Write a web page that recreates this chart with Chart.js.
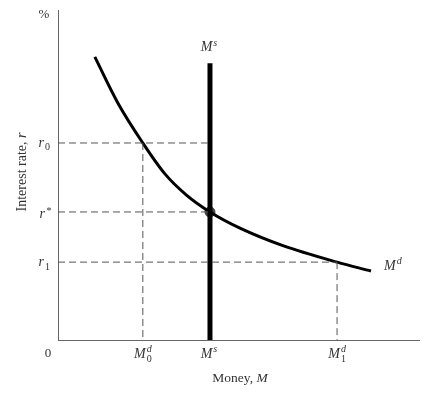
<!DOCTYPE html>
<html>
<head>
<meta charset="utf-8">
<script src="https://cdn.jsdelivr.net/npm/chart.js@4"></script>
<style>
  body { margin: 0; background: #fff; }
  #wrap { width: 427px; height: 398px; }
</style>
</head>
<body>
<div id="wrap"><canvas id="moneyChart" width="427" height="398"></canvas></div>
<script>
// money demand curve
var demandX = [10.2, 16.5, 23.5, 29.5, 35.5, 42.1, 50.4, 62.3, 77.3, 86.7];
var demandY = [85.8, 72.0, 59.7, 50.5, 44.0, 38.8, 33.9, 28.6, 23.6, 20.9];

// money supply (vertical)
var supplyX = 42.1;
var supplyTop = 83.9;

// interest rates and matching money amounts
var rateNames = ['r0', 'r*', 'r1'];
var rateValues = [59.7, 38.8, 23.6];
var moneyNames = ['M0d', 'Ms', 'M1d'];
var moneyValues = [23.5, 42.1, 77.3];

var txt = '#333';
var serif = '"Liberation Serif", "DejaVu Serif", serif';

function pts(xs, ys) {
    return xs.map(function (x, i) { return { x: x, y: ys[i] }; });
}

var dash = {
    borderColor: '#555',
    borderWidth: 1,
    borderDash: [7, 4],
    pointRadius: 0,
    fill: false
};

// label with italic base and small sub/superscript
function drawSym(ctx, base, sup, sub, x, y, align, size, supUp) {
    var small = Math.round(size * 0.72);
    ctx.font = 'italic ' + size + 'px ' + serif;
    var wb = ctx.measureText(base).width;
    ctx.font = 'italic ' + small + 'px ' + serif;
    var ws = Math.max(sup ? ctx.measureText(sup).width : 0, sub ? ctx.measureText(sub).width : 0);
    var total = wb + ws + 1;
    var left = align === 'right' ? x - total : align === 'center' ? x - total / 2 : x;
    ctx.textAlign = 'left';
    ctx.textBaseline = 'alphabetic';
    ctx.font = 'italic ' + size + 'px ' + serif;
    ctx.fillText(base, left, y);
    if (sup) {
        ctx.font = 'italic ' + small + 'px ' + serif;
        ctx.fillText(sup, left + wb + 1, y - size * (supUp || 0.4));
    }
    if (sub) {
        ctx.font = small + 'px ' + serif;
        ctx.fillText(sub, left + wb + 1, y + size * 0.25);
    }
}

var labelPlugin = {
    id: 'labels',
    afterDraw: function (chart) {
        var ctx = chart.ctx;
        var xs = chart.scales.x, ys = chart.scales.y;
        var x0 = xs.getPixelForValue(0), y0 = ys.getPixelForValue(0);
        ctx.save();
        ctx.fillStyle = txt;

        ctx.font = '13px ' + serif;
        ctx.textAlign = 'center';
        ctx.textBaseline = 'middle';
        ctx.fillText('%', x0 - 14, ys.getPixelForValue(98.5));
        ctx.fillText('0', x0 - 10, y0 + 14);

        // rate labels on the y axis
        rateNames.forEach(function (n, i) {
            var py = ys.getPixelForValue(rateValues[i]) + 4;
            if (n === 'r*') {
                drawSym(ctx, 'r', '*', null, x0 - 7, py + 2, 'right', 14, 0.25);
            } else {
                drawSym(ctx, 'r', null, n.slice(1), x0 - 8, py, 'right', 14);
            }
        });

        // money labels under the x axis
        moneyNames.forEach(function (n, i) {
            var px = xs.getPixelForValue(moneyValues[i]);
            var py = y0 + 18;
            if (n === 'Ms') {
                drawSym(ctx, 'M', 's', null, px - 1, py, 'center', 14);
            } else {
                drawSym(ctx, 'M', 'd', n.charAt(1), px, py, 'center', 14);
            }
        });

        // curve names
        drawSym(ctx, 'M', 's', null, xs.getPixelForValue(supplyX) - 1, ys.getPixelForValue(supplyTop) - 12, 'center', 14);
        var lx = xs.getPixelForValue(demandX[demandX.length - 1]) + 13;
        drawSym(ctx, 'M', 'd', null, lx, ys.getPixelForValue(demandY[demandY.length - 1]) - 1, 'left', 14);

        // axis titles
        ctx.textAlign = 'left';
        ctx.textBaseline = 'middle';
        var t1 = 'Money, ';
        ctx.font = '13.5px ' + serif;
        var w1 = ctx.measureText(t1).width;
        ctx.font = 'italic 13.5px ' + serif;
        var w2 = ctx.measureText('M').width;
        var cx = 240 - (w1 + w2) / 2;
        ctx.font = '13.5px ' + serif;
        ctx.fillText(t1, cx, 378);
        ctx.font = 'italic 13.5px ' + serif;
        ctx.fillText('M', cx + w1, 378);

        ctx.translate(22, 172);
        ctx.rotate(-Math.PI / 2);
        var s1 = 'Interest rate, ';
        ctx.font = '14px ' + serif;
        var v1 = ctx.measureText(s1).width;
        ctx.font = 'italic 14px ' + serif;
        var v2 = ctx.measureText('r').width;
        ctx.font = '14px ' + serif;
        ctx.fillText(s1, -(v1 + v2) / 2, 0);
        ctx.font = 'italic 14px ' + serif;
        ctx.fillText('r', -(v1 + v2) / 2 + v1, 0);
        ctx.restore();
    }
};

var ctxMoney = document.getElementById('moneyChart').getContext('2d');
var moneyChart = new Chart(ctxMoney, {
    type: 'line',
    data: {
        datasets: [
            Object.assign({ data: [{ x: 0, y: rateValues[0] }, { x: supplyX, y: rateValues[0] }] }, dash),
            Object.assign({ data: [{ x: moneyValues[0], y: rateValues[0] }, { x: moneyValues[0], y: 0 }] }, dash),
            Object.assign({ data: [{ x: 0, y: rateValues[1] }, { x: supplyX, y: rateValues[1] }] }, dash),
            Object.assign({ data: [{ x: 0, y: rateValues[2] }, { x: moneyValues[2], y: rateValues[2] }] }, dash),
            Object.assign({ data: [{ x: moneyValues[2], y: rateValues[2] }, { x: moneyValues[2], y: 0 }] }, dash),
            {
                label: 'Ms',
                data: [{ x: supplyX, y: 0 }, { x: supplyX, y: supplyTop }],
                borderColor: '#000',
                borderWidth: 5,
                pointRadius: 0
            },
            {
                label: 'Md',
                data: pts(demandX, demandY),
                borderColor: '#000',
                borderWidth: 3,
                cubicInterpolationMode: 'monotone',
                pointRadius: 0
            },
            {
                label: 'eq',
                data: [{ x: supplyX, y: rateValues[1] }],
                pointRadius: 5,
                pointBackgroundColor: '#444',
                pointBorderColor: '#444',
                showLine: false
            }
        ]
    },
    options: {
        responsive: false,
        animation: false,
        layout: { padding: { left: 58, top: 10, right: 8, bottom: 58 } },
        plugins: { legend: { display: false }, tooltip: { enabled: false } },
        scales: {
            x: {
                type: 'linear', min: 0, max: 100,
                grid: { display: false },
                ticks: { display: false },
                border: { color: '#666', width: 1 },
                afterFit: function (s) { s.height = 0; }
            },
            y: {
                type: 'linear', min: 0, max: 100,
                grid: { display: false },
                ticks: { display: false },
                border: { color: '#666', width: 1 },
                afterFit: function (s) { s.width = 0; }
            }
        }
    },
    plugins: [labelPlugin]
});
</script>
</body>
</html>
